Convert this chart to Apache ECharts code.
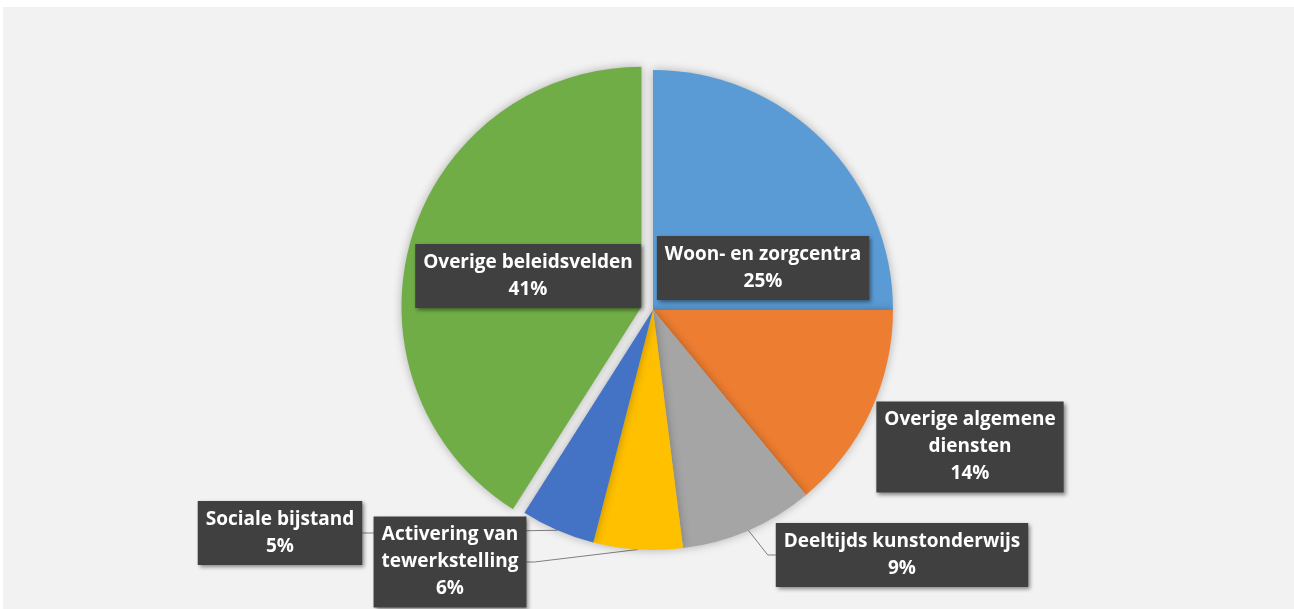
<!DOCTYPE html>
<html>
<head>
<meta charset="utf-8">
<script src="https://cdn.jsdelivr.net/npm/echarts@6/dist/echarts.min.js"></script>
<style>
  html, body { margin: 0; background: #fff; }
  #chart { width: 1294px; height: 609px; }
</style>
</head>
<body>
<div id="chart"></div>
<script>
// data
const categories = ['Woon- en zorgcentra', 'Overige algemene diensten', 'Deeltijds kunstonderwijs', 'Activering van tewerkstelling', 'Sociale bijstand', 'Overige beleidsvelden']
const values = [25, 14, 9, 6, 5, 41]
// how each label is broken over lines
const labelText = ['Woon- en zorgcentra', 'Overige algemene\ndiensten', 'Deeltijds kunstonderwijs', 'Activering van\ntewerkstelling', 'Sociale bijstand', 'Overige beleidsvelden']
const colors = ['#5b9bd5', '#ed7d31', '#a5a5a5', '#ffc000', '#4472c4', '#70ad47']

// where the label boxes sit (centre, px) and which get a leader line
const labelSpots = [[763, 268], [970, 447], [902, 555], [450, 562], [280, 533], [528, 276]]
const withLine = [false, false, true, true, true, false]
const exploded = 5 // the slice pulled out of the pie

const cx = 653
const cy = 310
const R = 240
const pullOut = 12

// direction of the pulled slice (start at 12 o'clock, clockwise)
const total = values.reduce((a, b) => a + b, 0)
const before = values.slice(0, exploded).reduce((a, b) => a + b, 0)
const midAngle = ((before + values[exploded] / 2) / total) * Math.PI * 2
const dx = Math.sin(midAngle) * pullOut
const dy = -Math.cos(midAngle) * pullOut

const chart = echarts.init(document.getElementById('chart'))

const sliceShadow = { shadowBlur: 10, shadowColor: 'rgba(0,0,0,0.28)' }

const baseSeries = {
  type: 'pie',
  radius: R,
  startAngle: 90,
  clockwise: true,
  avoidLabelOverlap: false,
  emphasis: { disabled: true },
  labelLine: {
    length: 6,
    length2: 8,
    lineStyle: { color: '#7f7f7f', width: 1 }
  }
}

const labelStyle = {
  show: true,
  position: 'outside',
  formatter: (p) => labelText[p.dataIndex] + '\n' + Math.round(p.percent) + '%',
  color: '#fff',
  fontFamily: 'Open Sans',
  fontWeight: 'bold',
  fontSize: 19,
  lineHeight: 27,
  align: 'center',
  backgroundColor: '#404040',
  padding: [6, 8, 4, 8],
  shadowColor: 'rgba(0,0,0,0.45)',
  shadowBlur: 4,
  shadowOffsetX: 2,
  shadowOffsetY: 2
}

const option = {
  backgroundColor: '#fff',
  animation: false,
  graphic: [
    {
      type: 'rect',
      z: -10,
      shape: { x: 3, y: 7, width: 1291, height: 602 },
      style: { fill: '#f2f2f2' }
    }
  ],
  series: [
    // pulled-out slice (drawn first so the labels of the other series stay on top)
    Object.assign({}, baseSeries, {
      center: [cx + dx, cy + dy],
      z: 1,
      label: { show: false },
      labelLine: { show: false },
      data: categories.map((name, i) => ({
        name: name,
        value: values[i],
        itemStyle: i === exploded
          ? Object.assign({ color: colors[i] }, sliceShadow)
          : { color: 'rgba(0,0,0,0)' }
      }))
    }),
    // the rest of the pie, plus all labels
    Object.assign({}, baseSeries, {
      center: [cx, cy],
      z: 2,
      label: labelStyle,
      labelLayout: (params) => {
        const spot = labelSpots[params.dataIndex]
        return {
          x: spot[0],
          y: spot[1],
          align: 'center',
          verticalAlign: 'middle'
        }
      },
      data: categories.map((name, i) => ({
        name: name,
        value: values[i],
        itemStyle: i === exploded
          ? { color: 'rgba(0,0,0,0)' }
          : Object.assign({ color: colors[i] }, sliceShadow),
        labelLine: { show: withLine[i] }
      }))
    })
  ]
}

chart.setOption(option)
</script>
</body>
</html>
